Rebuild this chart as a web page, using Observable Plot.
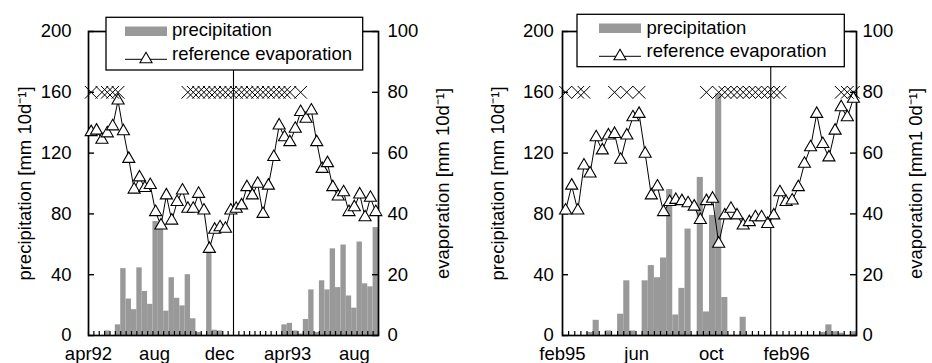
<!DOCTYPE html>
<html><head><meta charset="utf-8">
<script src="https://cdn.jsdelivr.net/npm/d3@7"></script>
<script src="https://cdn.jsdelivr.net/npm/@observablehq/plot@0.6"></script>
<style>
body{margin:0;background:#fff;}
#row{display:flex;width:932px;height:363px;}
#row svg{display:block;}
</style></head><body><div id="row"></div>
<script>
// ---------- data (10-day periods) ----------
const leftPrecip = [0,0,0,3,0,7,44,24,17,44.5, 29,20.5,75,74,16,38,24.5,19.5,40,11, 2,0,55,3.5,3,0,0,0,0,0, 0,0,0,0,0,0,7,8,3,1, 10.5,30,2,36,30,57,31.5,59.5,26,18, 61.5,34,32,71];
const leftEvap = [66.9,67.4,64.4,66.5,68.8,77.3,67.2,58.1,48,52, 48.5,49.5,40.6,36.2,46.1,37.8,43.9,47.7,41.7,41.7, 46.6,41.1,28.5,34.8,35.6,35.1,41.1,41.7,42.8,48.8, 46.1,49.9,40.0,49.3,58.7,69.1,65.2,63.6,68.0,73.5, 71.3,74.0,63.6,54.8,56.7,48.8,45.7,47.1,40.6,42.2, 46.4,38.9,45.3,40.6];
const leftMarks = [0,2,3,4,5,18,19,20,21,22,23,24,25,26,27,28,29,30,31,32,33,34,35,36,37,39];
const leftTickLabels = ["apr92","aug","dec","apr93","aug"];
const leftTickPos = [0, 12.3, 24.4, 37.1, 49.5];
const leftYearBreak = [27];

const rightPrecip = [0,0,0,0,2,10,0,3,0,14, 36,3,0,36,46,38,51,96,13.5,31, 70,0,104,15.5,79,159,25,0,0,12, 0,0,0,0,0,0,0,0,0,0, 0,0,2,7,2.5,1.5,0,2.5];
const rightEvap = [41.1,49.3,41.1,55.9,53.3,65.2,60.9,65.8,66.3,57.8, 65.8,71.8,72.9,59.8,46.1,49.0,40.6,43.9,44.6,44.2, 43.5,42.4,38.0,44.2,45.0,30.2,39.5,41.7,39.5,36.2, 37.3,38.9,38.9,36.7,39.5,47.1,43.9,44.4,48.8,56.5, 61.9,72.9,63.0,58.6,67.4,75.1,71.8,77.9];
const rightMarks = [0,2,3,8,10,12,23,25,26,27,28,29,30,31,32,33,34,35,45,46,47];
const rightTickLabels = ["feb95","jun","oct","feb96"];
const rightTickPos = [0, 12.1, 24.3, 36.6];
const rightYearBreak = [34];

const precipTicks = [0,40,80,120,160,200];
const evapTicks = [0,20,40,60,80,100];
const markLevel = 160;
const evapScale = 2; // 100 evaporation units == 200 precipitation units

const legendLabels = ["precipitation", "reference evaporation"];

// ---------- drawing ----------
const FONT = "'Liberation Sans', Arial, Helvetica, sans-serif";
const FS = 18.5;
const W = 466, H = 363, MT = 31, MB = 28;
const TRI_R = 4.5;

function panel(cfg) {
  const data = cfg.precip.map((p, i) => ({i, p, e: cfg.evap[i]}));
  const labels = cfg.tickLabels.map((label, k) => ({label, pos: cfg.tickPos[k]}));
  const innerW = W - cfg.ml - cfg.mr, innerH = H - MT - MB;
  const svg = Plot.plot({
    width: W, height: H,
    marginLeft: cfg.ml, marginRight: cfg.mr, marginTop: MT, marginBottom: MB,
    style: {fontFamily: FONT, fontSize: FS + "px", background: "white", overflow: "visible", color: "black"},
    x: {domain: [0, data.length], axis: null},
    y: {domain: [0, 200], axis: null},
    marks: [
      Plot.rect(data, {x1: "i", x2: d => d.i + 1, y1: 0, y2: "p", fill: "#999999"}),
      Plot.ruleX(cfg.yearBreak, {stroke: "black", strokeWidth: 1.1}),
      Plot.tickX(d3.range(data.length + 1), {x: d => d, insetTop: innerH - 4, stroke: "black", strokeWidth: 1.2}),
      Plot.tickY(precipTicks, {y: d => d, insetRight: innerW - 6, stroke: "black", strokeWidth: 1.4}),
      Plot.tickY(evapTicks, {y: d => d * evapScale, insetLeft: innerW - 6, stroke: "black", strokeWidth: 1.4}),
      Plot.frame({stroke: "black", strokeWidth: 1.7}),
      Plot.line(data, {x: d => d.i + 0.5, y: d => d.e * evapScale, stroke: "black", strokeWidth: 1}),
      Plot.dot(data, {x: d => d.i + 0.5, y: d => d.e * evapScale, symbol: "triangle", r: TRI_R, fill: "white", stroke: "black", strokeWidth: 1.1}),
      Plot.dot(cfg.marks, {x: d => d + 0.5, y: markLevel, symbol: "times", r: 5.8, stroke: "black", strokeWidth: 1}),
      Plot.axisY(precipTicks, {anchor: "left", tickSize: 0, tickPadding: cfg.padL, fontSize: FS, label: null}),
      Plot.axisY(evapTicks.map(v => v * evapScale), {anchor: "right", tickSize: 0, tickPadding: cfg.padR, fontSize: FS, tickFormat: d => d / evapScale, label: null}),
      Plot.text(labels, {x: "pos", y: 0, text: "label", lineAnchor: "top", dy: 11, fontSize: FS}),
      Plot.text([cfg.titleL], {frameAnchor: "left", dx: cfg.titleLdx, rotate: -90, textAnchor: "middle", text: d => d, fontSize: FS}),
      Plot.text([cfg.titleR], {frameAnchor: "right", dx: cfg.titleRdx, rotate: -90, textAnchor: "middle", text: d => d, fontSize: FS})
    ]
  });
  // legend box (drawn over the top frame line, as in the original)
  const g = d3.select(svg).append("g").attr("font-family", FONT).attr("font-size", FS).attr("text-anchor", "start");
  const L = cfg.legend;
  g.append("rect").attr("x", L.x).attr("y", L.y).attr("width", L.w).attr("height", L.h)
    .attr("fill", "white").attr("stroke", "black").attr("stroke-width", 1.3);
  g.append("rect").attr("x", L.x + L.sx).attr("y", L.y + 9.2).attr("width", 42).attr("height", 9.5).attr("fill", "#999999");
  g.append("text").attr("x", L.x + L.tx).attr("y", L.y + L.b1).attr("text-anchor", "start").text(legendLabels[0]);
  const ly = L.y + L.b2 - 1;
  g.append("line").attr("x1", L.x + L.sx).attr("x2", L.x + L.sx + 42).attr("y1", ly).attr("y2", ly)
    .attr("stroke", "black").attr("stroke-width", 1);
  g.append("path").attr("d", d3.symbol(d3.symbolTriangle, Math.PI * TRI_R * TRI_R)())
    .attr("transform", `translate(${L.x + L.sx + 21},${ly})`)
    .attr("fill", "white").attr("stroke", "black").attr("stroke-width", 1.1);
  g.append("text").attr("x", L.x + L.tx).attr("y", L.y + L.b2).attr("text-anchor", "start").text(legendLabels[1]);
  return svg;
}

const row = document.getElementById("row");
row.appendChild(panel({
  precip: leftPrecip, evap: leftEvap, marks: leftMarks,
  tickLabels: leftTickLabels, tickPos: leftTickPos, yearBreak: leftYearBreak,
  ml: 88, mr: 88, padL: 17, padR: 9,
  titleL: "precipitation [mm 10d\u207B\u00B9]", titleLdx: -63,
  titleR: "evaporation [mm 10d\u207B\u00B9]", titleRdx: 65,
  legend: {x: 106, y: 17.3, w: 256.7, h: 52.7, sx: 19, tx: 66, b1: 18.5, b2: 43}
}));
row.appendChild(panel({
  precip: rightPrecip, evap: rightEvap, marks: rightMarks,
  tickLabels: rightTickLabels, tickPos: rightTickPos, yearBreak: rightYearBreak,
  ml: 96, mr: 76, padL: 8.7, padR: 6,
  titleL: "precipitation [mm 10d\u207B\u00B9]", titleLdx: -64,
  titleR: "evaporation [mm1 0d\u207B\u00B9]", titleRdx: 60,
  legend: {x: 111, y: 14.3, w: 267.3, h: 52.4, sx: 22, tx: 69.5, b1: 19.5, b2: 43}
}));
</script>
</body></html>
